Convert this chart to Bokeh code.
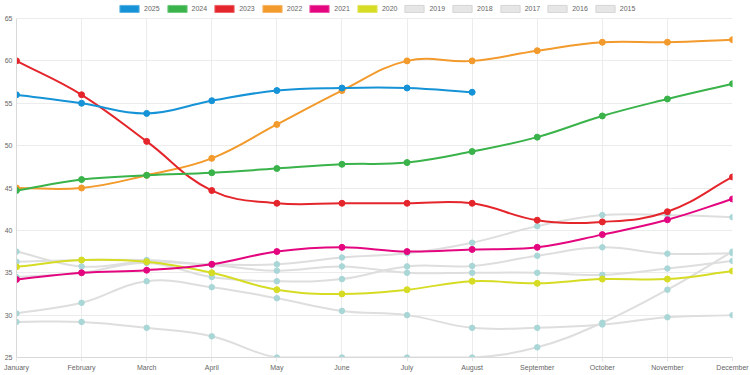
import math
from bokeh.plotting import figure
from bokeh.models import Range1d, FixedTicker, Legend, LegendItem, ColumnDataSource
from bokeh.embed import file_html
from bokeh.resources import INLINE

months = ["January", "February", "March", "April", "May", "June", "July",
          "August", "September", "October", "November", "December"]
years = ["2025", "2024", "2023", "2022", "2021", "2020",
         "2019", "2018", "2017", "2016", "2015"]

y2025 = [56.0, 55.0, 53.8, 55.3, 56.5, 56.8, 56.8, 56.3]
y2024 = [44.7, 46.0, 46.5, 46.8, 47.3, 47.8, 48.0, 49.3, 51.0, 53.5, 55.5, 57.3]
y2023 = [60.0, 56.0, 50.5, 44.7, 43.2, 43.2, 43.2, 43.2, 41.2, 41.0, 42.2, 46.3]
y2022 = [45.0, 45.0, 46.5, 48.5, 52.5, 56.5, 60.0, 60.0, 61.2, 62.2, 62.2, 62.5]
y2021 = [34.2, 35.0, 35.3, 36.0, 37.5, 38.0, 37.5, 37.75, 38.0, 39.5, 41.25, 43.7]
y2020 = [35.7, 36.5, 36.3, 35.0, 33.0, 32.5, 33.0, 34.0, 33.75, 34.25, 34.25, 35.2]
y2019 = [36.3, 36.5, 36.5, 36.0, 36.0, 36.8, 37.3, 38.55, 40.5, 41.8, 41.8, 41.55]
y2018 = [34.5, 35.0, 36.15, 34.5, 34.0, 34.25, 35.75, 35.8, 37.0, 38.0, 37.25, 37.3]
y2017 = [37.5, 35.75, 36.3, 35.9, 35.25, 35.75, 35.0, 35.0, 35.0, 34.75, 35.5, 36.4]
y2016 = [30.2, 31.45, 34.0, 33.3, 32.0, 30.5, 30.0, 28.5, 28.5, 28.9, 29.75, 30.0]
y2015 = [29.2, 29.2, 28.5, 27.5, 25.0, 25.0, 25.0, 25.0, 26.2, 29.1, 33.0, 37.5]
y_ticks = [25, 30, 35, 40, 45, 50, 55, 60, 65]

series = [y2025, y2024, y2023, y2022, y2021, y2020, y2019, y2018, y2017, y2016, y2015]
line_colors = ["#1593d6", "#39b34a", "#e4252b", "#f39a2c", "#e4067f", "#d6dc24",
               "#dedede", "#dedede", "#dedede", "#dedede", "#dedede"]
point_colors = ["#1593d6", "#39b34a", "#e4252b", "#f39a2c", "#e4067f", "#d6dc24",
                "#a9d6d6", "#a9d6d6", "#a9d6d6", "#a9d6d6", "#a9d6d6"]
legend_fill = ["#1593d6", "#39b34a", "#e4252b", "#f39a2c", "#e4067f", "#d6dc24",
               "#e6e6e6", "#e6e6e6", "#e6e6e6", "#e6e6e6", "#e6e6e6"]
legend_line = ["#5bb3e3", "#74c981", "#ec6367", "#f6b769", "#ec50a6", "#e2e663",
               "#d4d4d4", "#d4d4d4", "#d4d4d4", "#d4d4d4", "#d4d4d4"]

XMIN, XMAX, YMIN, YMAX = 0, 11, 25, 65
W, H = 750, 375
FW, FH = 716, 339          # data area in pixels
TOP = 18                   # room for the legend above the data area
sx = FW / (XMAX - XMIN)
sy = FH / (YMAX - YMIN)
YTOP = YMAX + TOP / sy     # frame extends up to the canvas top

p = figure(width=W, height=H, output_backend="svg", toolbar_location=None,
           x_range=Range1d(XMIN, XMAX), y_range=Range1d(YMIN, YTOP),
           min_border_left=16, min_border_right=18, min_border_top=0,
           min_border_bottom=18)
p.outline_line_color = None
p.background_fill_color = "white"
p.border_fill_color = "white"

FONT = "Liberation Sans"
p.xaxis.ticker = FixedTicker(ticks=list(range(12)))
p.xaxis.major_label_overrides = {i: m for i, m in enumerate(months)}
p.yaxis.ticker = FixedTicker(ticks=y_ticks)
p.yaxis.bounds = (YMIN, YMAX)
for ax in (p.xaxis[0], p.yaxis[0]):
    ax.major_label_text_font = FONT
    ax.major_label_text_font_size = "7px"
    ax.major_label_text_color = "#666666"
    ax.axis_line_color = "#d9d9d9"
    ax.minor_tick_line_color = None
    ax.major_tick_line_color = "#e6e6e6"
    ax.major_tick_in = 0
p.xaxis.major_tick_out = 4
p.xaxis.major_label_standoff = 2
p.yaxis.major_tick_out = 0
p.yaxis.major_label_standoff = 4

p.ygrid.grid_line_color = "#ececec"
p.ygrid.bounds = (YMIN - 1, YMAX + 1)
xg = p.xgrid[0]
if "cross_bounds" in xg.properties():
    xg.grid_line_color = "#ececec"
    xg.bounds = (XMIN - 1, XMAX + 1)
    xg.cross_bounds = (YMIN, YMAX)
else:
    xg.grid_line_color = None
    mx = list(range(12))
    p.segment(x0=mx, x1=mx, y0=[YMIN] * 12, y1=[YMAX] * 12,
              line_color="#ececec", line_width=1)


def spline(ys, t=0.4):
    n = len(ys)
    px = [i * sx for i in range(n)]
    py = [-v * sy for v in ys]
    prev_cp, next_cp = [], []
    for i in range(n):
        a = i - 1 if i > 0 else i
        b = i + 1 if i < n - 1 else i
        d01 = math.hypot(px[i] - px[a], py[i] - py[a])
        d12 = math.hypot(px[b] - px[i], py[b] - py[i])
        tot = d01 + d12
        s01 = d01 / tot if tot else 0
        s12 = d12 / tot if tot else 0
        fa, fb = t * s01, t * s12
        pcx = px[i] - fa * (px[b] - px[a])
        pcy = py[i] - fa * (py[b] - py[a])
        ncx = px[i] + fb * (px[b] - px[a])
        ncy = py[i] + fb * (py[b] - py[a])
        prev_cp.append((pcx / sx, -pcy / sy))
        next_cp.append((ncx / sx, -ncy / sy))
    cl = lambda v, lo, hi: max(lo, min(hi, v))
    d = dict(x0=[], y0=[], x1=[], y1=[], cx0=[], cy0=[], cx1=[], cy1=[])
    for i in range(n - 1):
        d["x0"].append(float(i)); d["y0"].append(ys[i])
        d["x1"].append(float(i + 1)); d["y1"].append(ys[i + 1])
        d["cx0"].append(cl(next_cp[i][0], XMIN, XMAX)); d["cy0"].append(cl(next_cp[i][1], YMIN, YMAX))
        d["cx1"].append(cl(prev_cp[i + 1][0], XMIN, XMAX)); d["cy1"].append(cl(prev_cp[i + 1][1], YMIN, YMAX))
    return ColumnDataSource(d)


for k in reversed(range(len(series))):
    ys = series[k]
    src = spline(ys)
    p.bezier(x0="x0", y0="y0", x1="x1", y1="y1", cx0="cx0", cy0="cy0",
             cx1="cx1", cy1="cy1", source=src, line_color=line_colors[k],
             line_width=2)
    gray = k >= 6
    p.scatter(x=list(range(len(ys))), y=ys, marker="circle",
              size=5.5 if gray else 6, fill_color=point_colors[k],
              line_color=point_colors[k], line_width=1)

items = []
for k, yr in enumerate(years):
    r = p.quad(left=[-10], right=[-9], top=[0], bottom=[-1], fill_color=legend_fill[k],
               line_color=legend_line[k], line_width=1)
    items.append(LegendItem(label=yr, renderers=[r]))

legend = Legend(items=items, orientation="horizontal",
                location=(101, FH + TOP - 13),
                glyph_width=24, glyph_height=9, label_height=9, label_width=0,
                label_standoff=3, spacing=5, padding=0, margin=0,
                label_text_font=FONT, label_text_font_size="7px",
                label_text_color="#666666", border_line_color=None,
                background_fill_alpha=0)
p.add_layout(legend, "center")

open("out.html", "w").write(file_html(p, INLINE))
